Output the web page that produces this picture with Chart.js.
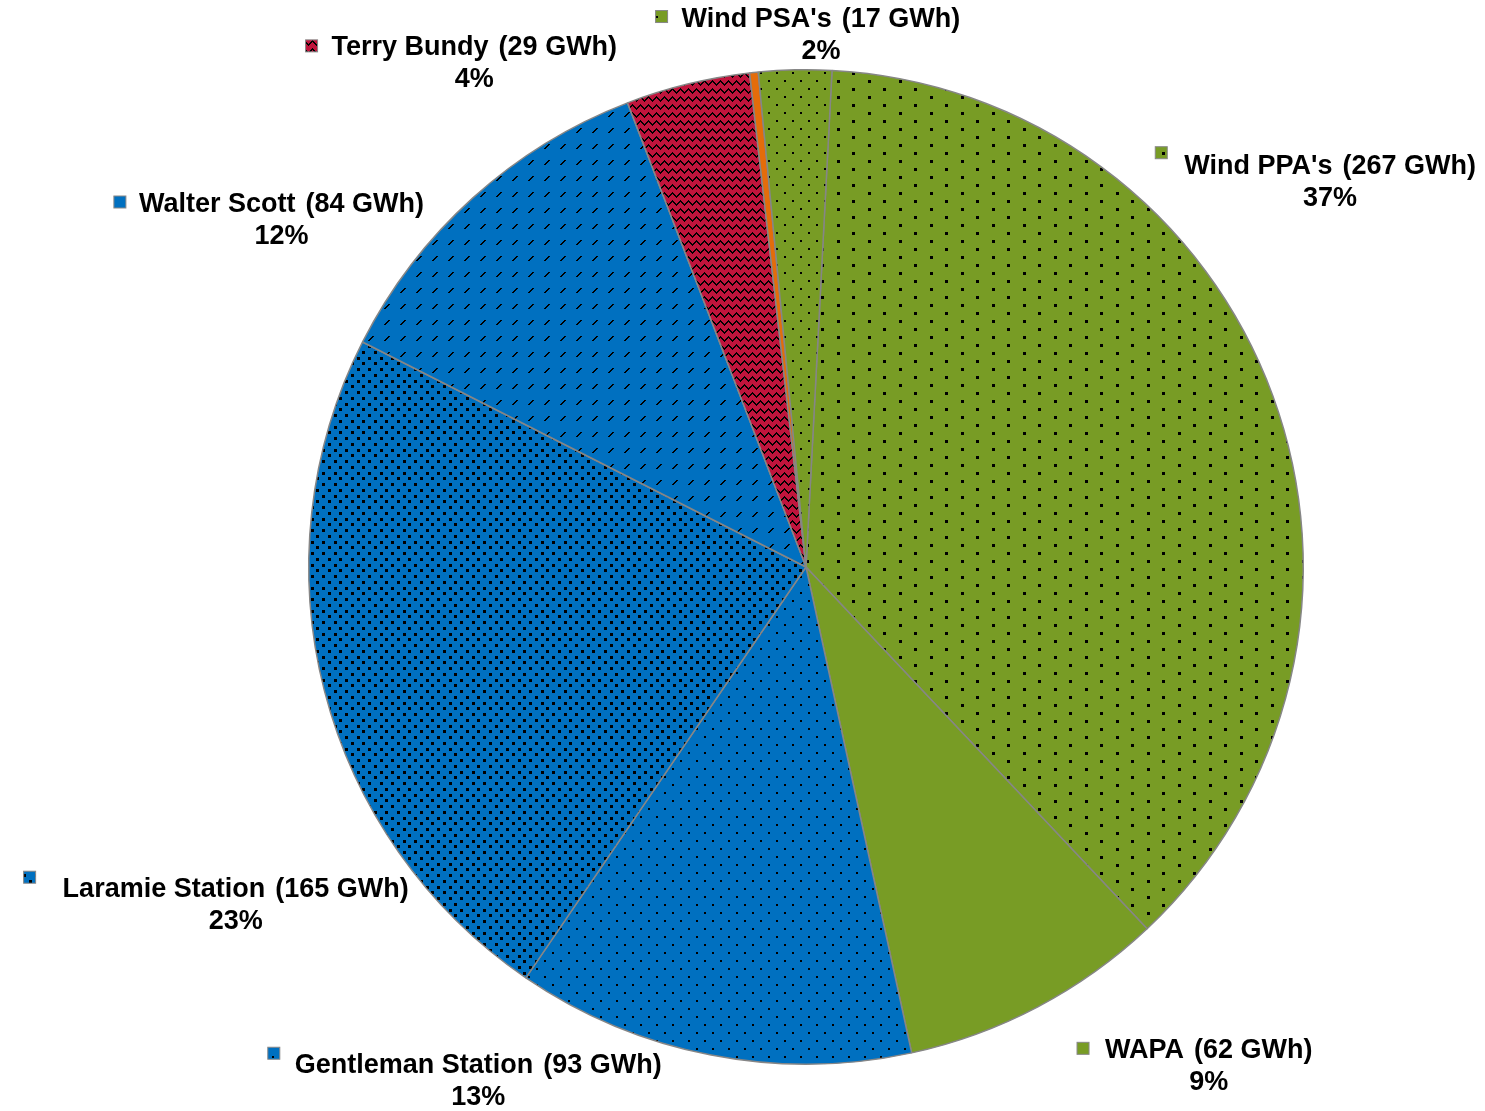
<!DOCTYPE html>
<html>
<head>
<meta charset="utf-8">
<script src="https://cdn.jsdelivr.net/npm/chart.js@4/dist/chart.umd.min.js"></script>
<style>
  body { margin: 0; background: #fff; }
  canvas { display: block; }
</style>
</head>
<body>
<canvas id="grafica" width="1485" height="1111"></canvas>
<script>
// datos (GWh), en el orden del pastel empezando arriba y en sentido horario
const fuentes = ["Wind PPA's", 'WAPA', 'Gentleman Station', 'Laramie Station', 'Walter Scott', 'Terry Bundy', 'Otro', "Wind PSA's"];
const energia = [267, 62, 93, 165, 84, 29, 2, 17];
const conEtiqueta = [true, true, true, true, true, true, false, true];

const VERDE = '#789C25';
const AZUL = '#0070C0';
const ROJO = '#C0143C';
const NARANJA = '#E46C0A';

// tramas de relleno
function trama(w, h, color, dibujar) {
    const c = document.createElement('canvas');
    c.width = w; c.height = h;
    const g = c.getContext('2d');
    g.fillStyle = color;
    g.fillRect(0, 0, w, h);
    g.fillStyle = '#000';
    dibujar(g);
    return document.getElementById('grafica').getContext('2d').createPattern(c, 'repeat');
}

const puntosGrandes = trama(31, 16, VERDE, g => {
    g.fillRect(0, 0, 3, 3);
    g.fillRect(15, 8, 3, 3);
});
const puntosFinosVerde = trama(16, 16, VERDE, g => {
    g.fillRect(0, 0, 2, 2);
    g.fillRect(8, 8, 2, 2);
});
const puntosFinosAzul = trama(16, 16, AZUL, g => {
    g.fillRect(0, 0, 2, 2);
    g.fillRect(8, 8, 2, 2);
});
const puntosDensos = trama(23, 23, AZUL, g => {
    [[0, 0], [12, 0], [6, 6], [17, 6], [0, 12], [12, 12], [6, 17], [17, 17]]
        .forEach(p => g.fillRect(p[0], p[1], 3, 3));
});
const diagonales = trama(16, 16, AZUL, g => {
    for (let i = 0; i < 5; i++) g.fillRect(i, 4 - i, 2, 1);
});
const zigzag = trama(8, 8, ROJO, g => {
    for (let x = 0; x < 8; x++) {
        const y = x < 4 ? x : 8 - x;
        g.fillRect(x, y, 1, 2);
    }
});

const rellenos = [puntosGrandes, VERDE, puntosFinosAzul, puntosDensos, diagonales, zigzag, NARANJA, puntosFinosVerde];

// posicion de cada etiqueta respecto al centro, en radios
const posEtiquetas = [
    [1.054, -0.805, -23, -14],
    [0.810, 0.972, -22, -2],
    [-0.659, 1.002, -21, -12],
    [-1.147, 0.648, -33, -12],
    [-1.055, -0.728, -19, -3],
    [-0.667, -1.044, -20, -2],
    null,
    [0.030, -1.101, -20, -3]
];

const etiquetas = {
    id: 'etiquetas',
    afterDraw(chart) {
        const ctx = chart.ctx;
        const arcos = chart.getDatasetMeta(0).data;
        const total = energia.reduce((a, b) => a + b, 0);
        ctx.save();
        ctx.font = 'bold 27px "Liberation Sans", Arial, sans-serif';
        ctx.fillStyle = '#000';
        ctx.textBaseline = 'middle';
        arcos.forEach((arco, i) => {
            if (!conEtiqueta[i]) return;
            const r = arco.outerRadius;
            const [fx, fy, mdx, mdy] = posEtiquetas[i];
            const cx = arco.x + fx * r;
            const cy = arco.y + fy * r;
            const nombre = fuentes[i];
            const valor = '(' + energia[i] + ' GWh)';
            const hueco = 10;
            const w1 = ctx.measureText(nombre).width;
            const w2 = ctx.measureText(valor).width;
            const izq = cx - (w1 + hueco + w2) / 2;
            ctx.textAlign = 'left';
            ctx.fillText(nombre, izq, cy);
            ctx.fillText(valor, izq + w1 + hueco, cy);
            ctx.textAlign = 'center';
            ctx.fillText(Math.round(energia[i] / total * 100) + '%', cx, cy + 32);
            // cuadrito de leyenda
            const mx = izq + mdx, my = cy + mdy;
            ctx.fillStyle = rellenos[i];
            ctx.fillRect(mx - 6, my - 6, 12, 12);
            ctx.strokeStyle = '#888';
            ctx.lineWidth = 1;
            ctx.strokeRect(mx - 6, my - 6, 12, 12);
            ctx.fillStyle = '#000';
        });
        ctx.restore();
    }
};

new Chart(document.getElementById('grafica'), {
    type: 'pie',
    data: {
        labels: fuentes,
        datasets: [{
            data: energia,
            backgroundColor: rellenos,
            borderColor: '#868686',
            borderWidth: 1.5
        }]
    },
    options: {
        responsive: false,
        animation: false,
        rotation: 3,
        layout: { padding: { left: 298, right: 171, top: 69, bottom: 46 } },
        plugins: {
            legend: { display: false },
            tooltip: { enabled: false }
        }
    },
    plugins: [etiquetas]
});
</script>
</body>
</html>
